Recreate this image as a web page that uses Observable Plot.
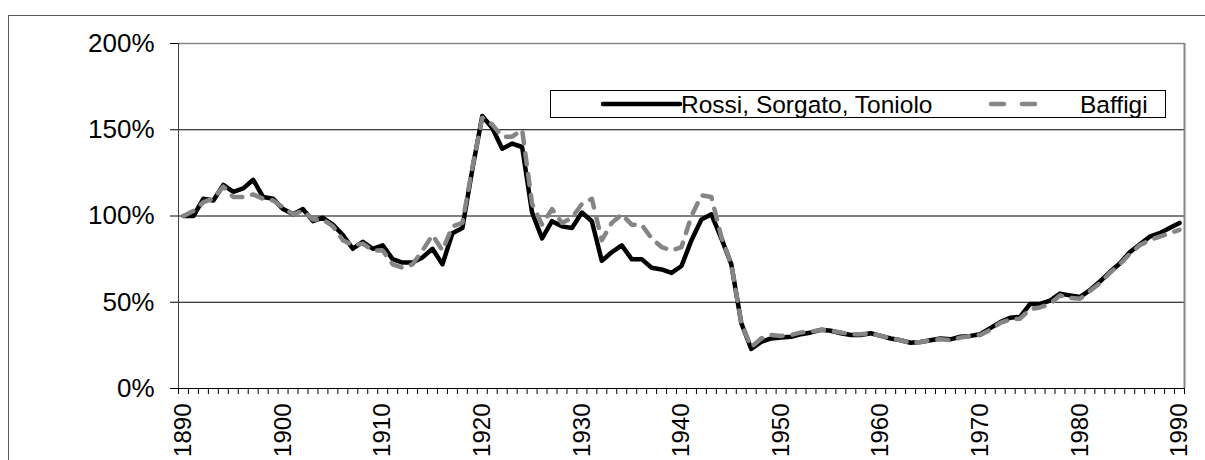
<!DOCTYPE html>
<html><head><meta charset="utf-8">
<script src="https://cdn.jsdelivr.net/npm/d3@7"></script>
<script src="https://cdn.jsdelivr.net/npm/@observablehq/plot@0.6"></script>
<style>
html,body{margin:0;padding:0;background:#fff;}
#wrap{position:relative;width:1205px;height:460px;overflow:hidden;font-family:"Liberation Sans",Arial,sans-serif;}
#frame{position:absolute;left:8px;top:15px;width:1300px;height:600px;border:1px solid #595959;box-sizing:border-box;pointer-events:none;}
#chart{position:absolute;left:0;top:0;}
#legend{position:absolute;left:550px;top:90px;}
</style>
</head><body>
<div id="wrap"><div id="frame"></div><div id="chart"></div><div id="legend"></div></div>
<script>
const startYear = 1890;
const seriesNames = ["Rossi, Sorgato, Toniolo", "Baffigi"];
// Rossi, Sorgato, Toniolo (1890..1990), percent
const rstValues = [
100,100,110,109,118,114,116,121,111,110,
104,101,104,97,99,95,89,81,85,81,
83,75,73,73,76,81,72,90,93,127,
158,151,139,142,140,102,87,97,94,93,
102,97,74,79,83,75,75,70,69,67,
71,86,98,101,87,72,38,23,27,29,
29.5,30,31.5,32.5,34,33.5,32,31,31,32,
30.5,29,28,26.5,27,28,29,28.5,30,30.5,
31.5,35,38.5,41,41.5,49,49,51,55,54,
53,57,62,67.5,72.5,79,83.5,88,90,93,
96];
// Baffigi (1890..1990), percent
const baffigiValues = [
100,103,108,110,117,111,111,112.5,110,109,
105,101,103,98,98,94,86,83,84,80,
80,72,70,72,80,89,80,94,96,128,
157,153,146,146,150,107,95,104,96,99,
107,110,86,96,101,95,95,87,82,80,
82,100,112,111,88,72,38,24,29,31,
30.5,31,32.5,33,34,33.5,32.5,31.5,31.5,32,
30.5,29,28,26.5,27,28,28.5,28,29.5,30.5,
31,34,38,40,40.5,46,47,49,54,52.5,
52,56.5,61,67,72,78,83,86,88,90,
92];
const yTicks = [0,50,100,150,200];
const xLabelYears = [1890,1900,1910,1920,1930,1940,1950,1960,1970,1980,1990];

const rows = (vals) => vals.map((v,i)=>({year:startYear+i, value:v}));
const boundaries = d3.range(startYear-0.5, startYear+rstValues.length, 1);
const xMin = startYear-0.5, xMax = startYear+rstValues.length-0.5;

const chart = Plot.plot({
  width:1205, height:460,
  marginLeft:178, marginRight:21, marginTop:43, marginBottom:72,
  style:{fontFamily:"'Liberation Sans', Arial, sans-serif", background:"transparent", overflow:"visible", color:"black"},
  x:{domain:[xMin,xMax]},
  y:{domain:[0,200]},
  marks:[
    Plot.ruleY([50,100,150],{stroke:"black", strokeWidth:1}),
    Plot.ruleY([200],{stroke:"#868686", strokeWidth:1.5}),
    Plot.ruleX([xMax],{stroke:"#868686", strokeWidth:2}),
    Plot.axisY({ticks:yTicks, tickFormat:d=>d+"%", tickSize:8, tickPadding:16, fontSize:26, label:null}),
    Plot.axisX({ticks:boundaries, tickSize:6, tickFormat:()=>"", label:null}),
    Plot.axisX({ticks:xLabelYears, tickSize:0, tickRotate:-90, tickPadding:15, fontSize:24, tickFormat:d=>String(d), label:null}),
    Plot.ruleX([xMin],{stroke:"#404040", strokeWidth:1}),
    Plot.ruleY([0],{stroke:"black", strokeWidth:1}),
    Plot.line(rows(rstValues), {x:"year", y:"value", stroke:"black", strokeWidth:4.5, strokeLinejoin:"round", strokeLinecap:"round"}),
    Plot.line(rows(baffigiValues), {x:"year", y:"value", stroke:"#858585", strokeWidth:4.5, strokeDasharray:"11,10", strokeLinecap:"round", strokeLinejoin:"round"})
  ]
});
document.getElementById("chart").appendChild(chart);

// legend
const ns = "http://www.w3.org/2000/svg";
const lg = document.createElementNS(ns,"svg");
lg.setAttribute("width","617"); lg.setAttribute("height","29");
lg.innerHTML = `
<rect x="0.5" y="0.5" width="615" height="27" fill="white" stroke="black" stroke-width="1"/>
<line x1="53" x2="130" y1="14" y2="14" stroke="black" stroke-width="4.5" stroke-linecap="round"/>
<text x="131" y="14" dy="0.35em" font-size="24.5" font-family="'Liberation Sans', Arial, sans-serif" fill="black">${seriesNames[0]}</text>
<line x1="441" x2="493" y1="14" y2="14" stroke="#858585" stroke-width="4.5" stroke-dasharray="13,18" stroke-linecap="round"/>
<text x="530" y="14" dy="0.35em" font-size="24.5" font-family="'Liberation Sans', Arial, sans-serif" fill="black">${seriesNames[1]}</text>`;
document.getElementById("legend").appendChild(lg);
</script>
</body></html>
